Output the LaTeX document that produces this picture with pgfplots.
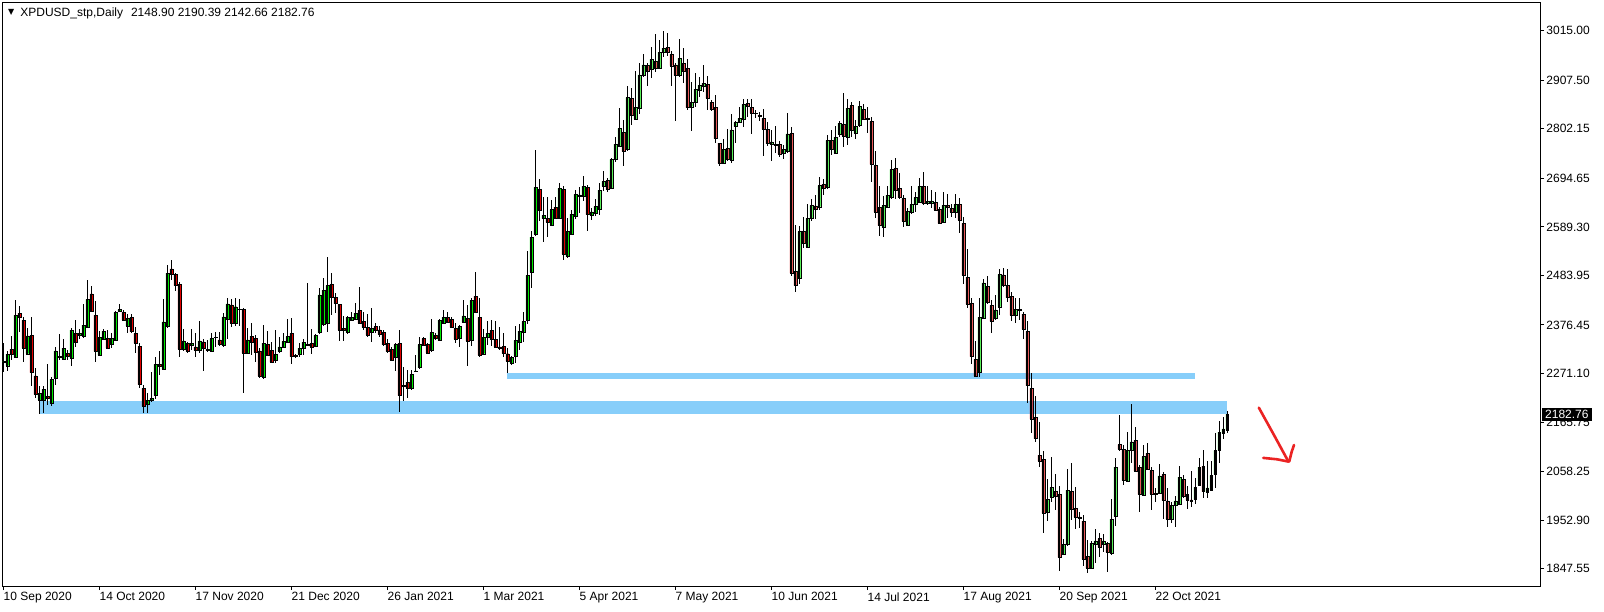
\documentclass[border=0pt]{standalone}
\usepackage{fontspec}
\setmainfont{Liberation Sans}
\newfontfamily\sym{DejaVu Sans}
\usepackage{pgfplots}
\usepackage{pgfplotstable}
\pgfplotsset{compat=1.18}
\definecolor{bull}{RGB}{0,235,0}
\definecolor{bear}{RGB}{225,0,0}
\definecolor{band}{RGB}{135,206,250}
\definecolor{arrowred}{RGB}{235,35,35}

\pgfplotstableread{
i O H L C
0 2296 2337 2275 2298
1 2288 2319 2277 2313
2 2324 2353 2300 2313
3 2306 2431 2304 2398
4 2402 2418 2362 2394
5 2387 2394 2297 2327
6 2314 2370 2311 2353
7 2354 2394 2243 2273
8 2266 2282 2219 2226
9 2214 2243 2183 2228
10 2214 2243 2185 2237
11 2222 2292 2203 2217
12 2206 2264 2201 2259
13 2260 2329 2247 2320
14 2306 2357 2300 2309
15 2302 2345 2300 2326
16 2315 2322 2300 2308
17 2304 2369 2288 2365
18 2358 2387 2328 2338
19 2354 2367 2347 2359
20 2352 2423 2348 2376
21 2371 2475 2369 2432
22 2444 2461 2405 2406
23 2398 2428 2297 2319
24 2311 2363 2309 2350
25 2345 2367 2344 2363
26 2347 2366 2324 2327
27 2334 2358 2326 2347
28 2343 2407 2342 2404
29 2406 2421 2405 2410
30 2404 2409 2385 2387
31 2374 2400 2360 2391
32 2393 2400 2358 2362
33 2358 2371 2316 2337
34 2330 2337 2239 2247
35 2239 2246 2186 2200
36 2204 2228 2185 2213
37 2213 2274 2209 2217
38 2223 2308 2215 2291
39 2291 2319 2268 2286
40 2280 2432 2279 2383
41 2373 2507 2371 2489
42 2498 2517 2474 2486
43 2486 2490 2451 2462
44 2465 2470 2308 2324
45 2323 2368 2319 2342
46 2337 2340 2316 2319
47 2332 2367 2322 2337
48 2329 2358 2308 2322
49 2321 2384 2315 2342
50 2340 2347 2277 2325
51 2324 2344 2319 2321
52 2319 2360 2317 2347
53 2349 2362 2329 2350
54 2344 2362 2333 2334
55 2332 2403 2329 2394
56 2388 2434 2347 2422
57 2420 2432 2371 2380
58 2380 2436 2374 2416
59 2411 2433 2374 2410
60 2410 2413 2228 2316
61 2316 2370 2315 2344
62 2352 2380 2311 2339
63 2347 2355 2297 2317
64 2320 2326 2261 2266
65 2264 2376 2259 2337
66 2334 2364 2309 2311
67 2321 2340 2295 2296
68 2300 2366 2295 2313
69 2319 2350 2316 2329
70 2329 2360 2327 2341
71 2339 2389 2337 2351
72 2358 2391 2292 2308
73 2311 2313 2304 2308
74 2313 2337 2308 2326
75 2327 2346 2311 2339
76 2333 2468 2332 2334
77 2337 2368 2314 2329
78 2330 2356 2329 2354
79 2360 2457 2356 2442
80 2377 2478 2376 2452
81 2381 2524 2362 2462
82 2465 2489 2398 2436
83 2436 2445 2403 2423
84 2421 2423 2342 2366
85 2369 2396 2342 2364
86 2360 2396 2358 2393
87 2387 2405 2385 2393
88 2390 2425 2387 2402
89 2408 2459 2379 2380
90 2384 2405 2366 2371
91 2371 2400 2351 2355
92 2360 2413 2340 2369
93 2373 2380 2360 2366
94 2366 2374 2351 2356
95 2360 2366 2332 2334
96 2337 2347 2316 2319
97 2324 2329 2298 2300
98 2306 2338 2277 2334
99 2337 2366 2188 2223
100 2245 2286 2211 2244
101 2252 2279 2219 2239
102 2239 2279 2235 2269
103 2276 2311 2275 2277
104 2284 2350 2282 2334
105 2347 2351 2330 2332
106 2334 2338 2315 2316
107 2321 2389 2320 2360
108 2354 2358 2345 2347
109 2343 2389 2342 2387
110 2380 2410 2379 2393
111 2393 2405 2380 2382
112 2389 2393 2369 2371
113 2369 2380 2337 2345
114 2347 2376 2329 2373
115 2382 2431 2380 2396
116 2391 2420 2288 2342
117 2343 2434 2331 2430
118 2439 2492 2402 2405
119 2393 2436 2306 2311
120 2314 2368 2313 2350
121 2350 2384 2333 2358
122 2365 2387 2331 2345
123 2345 2385 2326 2329
124 2329 2373 2322 2327
125 2330 2358 2308 2315
126 2314 2326 2272 2298
127 2293 2309 2290 2306
128 2309 2374 2293 2343
129 2340 2378 2322 2363
130 2360 2404 2340 2384
131 2386 2537 2379 2484
132 2491 2580 2456 2567
133 2573 2756 2570 2675
134 2671 2693 2601 2626
135 2608 2655 2557 2614
136 2608 2654 2568 2599
137 2593 2648 2591 2627
138 2632 2654 2606 2608
139 2608 2684 2606 2673
140 2671 2679 2517 2530
141 2525 2608 2521 2580
142 2573 2627 2572 2617
143 2612 2669 2606 2660
144 2656 2675 2620 2659
145 2655 2700 2646 2678
146 2675 2680 2581 2616
147 2614 2630 2604 2622
148 2619 2650 2612 2634
149 2627 2685 2615 2669
150 2677 2711 2668 2688
151 2690 2695 2665 2670
152 2673 2738 2671 2736
153 2736 2784 2731 2769
154 2765 2847 2763 2803
155 2795 2821 2722 2753
156 2758 2894 2755 2870
157 2868 2891 2810 2831
158 2823 2928 2821 2849
159 2847 2944 2834 2919
160 2919 2964 2915 2941
161 2940 2944 2894 2926
162 2931 2979 2913 2953
163 2949 3007 2926 2933
164 2933 2995 2932 2968
165 2968 3014 2957 2977
166 2979 3009 2960 2968
167 2964 2971 2894 2939
168 2941 2946 2820 2918
169 2918 2998 2915 2955
170 2944 2977 2901 2928
171 2933 2953 2842 2848
172 2850 2904 2798 2859
173 2859 2924 2849 2888
174 2886 2914 2872 2897
175 2894 2940 2883 2901
176 2899 2917 2842 2868
177 2860 2865 2842 2844
178 2849 2876 2771 2781
179 2771 2772 2722 2727
180 2727 2781 2726 2758
181 2760 2802 2732 2736
182 2734 2834 2729 2800
183 2807 2818 2771 2816
184 2816 2849 2814 2825
185 2823 2867 2805 2855
186 2857 2866 2828 2852
187 2849 2867 2791 2836
188 2836 2843 2825 2835
189 2832 2839 2818 2829
190 2825 2845 2743 2801
191 2801 2817 2765 2770
192 2768 2800 2733 2774
193 2768 2808 2750 2766
194 2768 2776 2742 2747
195 2749 2766 2736 2758
196 2753 2836 2750 2791
197 2792 2805 2483 2489
198 2493 2593 2449 2462
199 2477 2591 2465 2579
200 2579 2610 2544 2553
201 2546 2639 2544 2608
202 2609 2649 2601 2636
203 2635 2659 2607 2628
204 2633 2697 2625 2679
205 2682 2694 2659 2673
206 2675 2789 2672 2777
207 2777 2800 2745 2757
208 2749 2808 2748 2784
209 2790 2819 2785 2814
210 2812 2879 2763 2787
211 2784 2866 2766 2847
212 2853 2860 2785 2800
213 2792 2821 2780 2808
214 2810 2863 2807 2851
215 2844 2857 2821 2823
216 2825 2850 2794 2822
217 2818 2827 2687 2725
218 2723 2754 2609 2622
219 2632 2678 2570 2592
220 2588 2657 2568 2636
221 2633 2677 2630 2658
222 2653 2734 2651 2714
223 2716 2738 2650 2669
224 2673 2706 2651 2653
225 2651 2659 2588 2601
226 2593 2630 2591 2623
227 2621 2677 2617 2638
228 2638 2664 2621 2653
229 2643 2695 2642 2677
230 2677 2708 2639 2640
231 2640 2677 2638 2645
232 2640 2669 2630 2646
233 2643 2664 2624 2626
234 2627 2632 2596 2597
235 2599 2664 2597 2636
236 2636 2660 2609 2632
237 2630 2640 2610 2621
238 2621 2660 2608 2638
239 2638 2653 2575 2604
240 2597 2611 2466 2484
241 2480 2541 2414 2421
242 2423 2434 2291 2308
243 2302 2341 2264 2266
244 2274 2434 2263 2393
245 2392 2476 2391 2468
246 2460 2483 2422 2425
247 2419 2431 2358 2384
248 2391 2442 2387 2409
249 2416 2498 2398 2486
250 2485 2499 2460 2462
251 2462 2498 2427 2436
252 2439 2449 2384 2397
253 2397 2436 2381 2410
254 2410 2434 2387 2408
255 2400 2405 2347 2367
256 2363 2385 2208 2245
257 2239 2272 2141 2172
258 2176 2222 2122 2130
259 2094 2166 2068 2081
260 2085 2102 1926 1968
261 1970 2042 1950 1998
262 2003 2089 1993 2024
263 2016 2053 1975 2005
264 2009 2027 1843 1872
265 1879 1911 1877 1900
266 1900 2064 1897 2018
267 2016 2076 1953 1977
268 1979 2024 1933 1960
269 1960 1970 1935 1957
270 1951 1964 1853 1868
271 1874 1910 1838 1848
272 1848 1908 1846 1903
273 1901 1933 1859 1908
274 1913 1926 1874 1894
275 1900 1923 1884 1908
276 1903 1906 1840 1883
277 1881 1999 1877 1955
278 1961 2088 1941 2068
279 2117 2181 2102 2107
280 2107 2116 2029 2039
281 2038 2144 2036 2105
282 2104 2205 2078 2123
283 2126 2154 2058 2060
284 2068 2073 1970 2009
285 2007 2115 2005 2091
286 2098 2120 2062 2063
287 2061 2068 1976 2010
288 2011 2022 1993 2009
289 2011 2074 2010 2049
290 2052 2057 1955 1996
291 1995 2023 1937 1955
292 1955 1992 1947 1985
293 1986 2006 1939 1995
294 1987 2070 1985 2046
295 2042 2050 2000 2004
296 2009 2028 1977 1997
297 1997 2060 1982 1994
298 1998 2044 1989 2024
299 2029 2088 2027 2068
300 2070 2105 2002 2015
301 2013 2082 2000 2023
302 2018 2082 2017 2050
303 2052 2143 2023 2104
304 2105 2168 2076 2144
305 2141 2177 2130 2151
306 2148.90 2190.39 2142.66 2182.76
}\ohlc
\pgfplotstablecreatecol[create col/expr={min(\thisrow{O},\thisrow{C})}]{base}{\ohlc}
\pgfplotstablecreatecol[create col/expr={max(\thisrow{C}-\thisrow{O},0)}]{up}{\ohlc}
\pgfplotstablecreatecol[create col/expr={max(\thisrow{O}-\thisrow{C},0)}]{dn}{\ohlc}

\pgfplotsset{
  chartbox/.style={
    scale only axis, width=768.85pt, height=291.75pt,
    xmin=-0.25, xmax=384.2, ymin=1810, ymax=3076.2,
  }
}

\begin{document}
\begin{tikzpicture}[font=\fontsize{6pt}{7pt}\selectfont]
\fill[white] (-1.15pt,-12.5pt) rectangle (800.85pt,293pt);
% background objects: support bands and arrow
\begin{axis}[chartbox, hide axis, clip=false]
  \addplot[fill=band, draw=none] coordinates {(9,2184) (306,2184) (306,2211) (9,2211)};
  \addplot[fill=band, draw=none] coordinates {(126,2259) (298,2259) (298,2272) (126,2272)};
  \addplot[arrowred, line width=1.3pt, line cap=round, line join=round] coordinates {(313.9,2197) (317.6,2139) (321.3,2080)};
  \addplot[arrowred, line width=1.3pt, line cap=round, line join=round] coordinates {(315.0,2088) (318.4,2085) (321.3,2080)};
  \addplot[arrowred, line width=1.3pt, line cap=round, line join=round] coordinates {(322.7,2116) (322.1,2101) (321.5,2080)};
\end{axis}
% candles
\begin{axis}[chartbox,
  ybar stacked, bar width=0.74,
  axis line style={line width=0.5pt, black},
  tick align=outside, major tick length=2pt,
  tick style={line width=0.5pt, black},
  xtick pos=left, ytick pos=right, yticklabel pos=right,
  xtick={0,24,...,288},
  xticklabels={10 Sep 2020,14 Oct 2020,17 Nov 2020,21 Dec 2020,26 Jan 2021,1 Mar 2021,5 Apr 2021,7 May 2021,10 Jun 2021,14 Jul 2021,17 Aug 2021,20 Sep 2021,22 Oct 2021},
  ytick={1847.55,1952.90,2058.25,2165.75,2271.10,2376.45,2483.95,2589.30,2694.65,2802.15,2907.50,3015.00},
  yticklabels={1847.55,1952.90,2058.25,2165.75,2271.10,2376.45,2483.95,2589.30,2694.65,2802.15,2907.50,3015.00},
  tick label style={font=\fontsize{6pt}{7pt}\selectfont},
  xticklabel style={anchor=north west, inner sep=0pt, yshift=-1pt},
  yticklabel style={anchor=west, inner sep=0pt, xshift=1pt},
]
  \addplot[draw=none, fill=none,
    error bars/.cd, y dir=both, y explicit, error mark=none,
    error bar style={draw=black, line width=0.5pt, solid}]
    table[x=i, y=base, y error plus expr=\thisrow{H}-\thisrow{base}, y error minus expr=\thisrow{base}-\thisrow{L}] {\ohlc};
  \addplot[fill=bull, draw=black, line width=0.22pt] table[x=i, y=up] {\ohlc};
  \addplot[fill=bear, draw=black, line width=0.22pt] table[x=i, y=dn] {\ohlc};
  \coordinate (lab) at (axis cs:384.2,2182.76);
\end{axis}
\node[fill=black, text=white, inner xsep=1.8pt, inner ysep=0pt, minimum height=6.5pt, anchor=west] at ([xshift=0.6pt]lab) {2182.76};
\node[anchor=west, inner sep=0pt] at (2.7pt,286.6pt) {{\sym\fontsize{4pt}{5pt}\selectfont ▼}};
\node[anchor=west, inner sep=0pt] at (8.85pt,286.5pt) {XPDUSD\_stp,Daily\hspace{4pt}2148.90 2190.39 2142.66 2182.76};
\pgfresetboundingbox
\useasboundingbox (-1.15pt,-12.5pt) rectangle (800.85pt,293pt);
\end{tikzpicture}
\end{document}
